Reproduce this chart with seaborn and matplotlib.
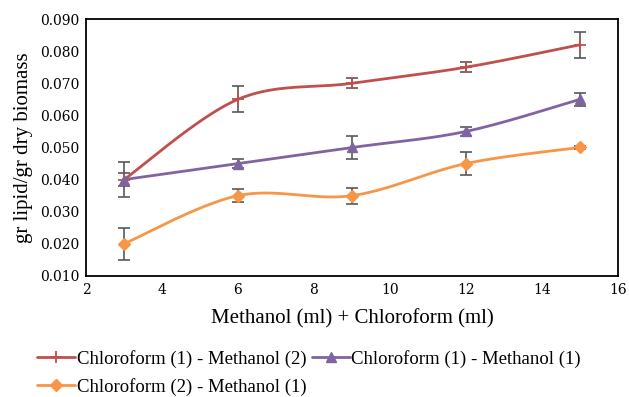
import numpy as np
import matplotlib
matplotlib.use("Agg")
import matplotlib.pyplot as plt
import seaborn as sns
from matplotlib.lines import Line2D

sns.set_theme(style="white")
plt.rcParams['font.family'] = ['Liberation Serif', 'DejaVu Serif']
plt.rcParams['text.color'] = 'black'
plt.rcParams['axes.labelcolor'] = 'black'

x_vals = [3, 6, 9, 12, 15]
red_vals = [0.040, 0.065, 0.070, 0.075, 0.082]
red_err = [0.002, 0.004, 0.0015, 0.0015, 0.004]
purple_vals = [0.040, 0.045, 0.050, 0.055, 0.065]
purple_err = [0.0055, 0.0015, 0.0035, 0.0015, 0.002]
orange_vals = [0.020, 0.035, 0.035, 0.045, 0.050]
orange_err = [0.005, 0.002, 0.0025, 0.0035, 0.0005]
labels = ["Chloroform (1) - Methanol (2)", "Chloroform (1) - Methanol (1)",
          "Chloroform (2) - Methanol (1)"]
colors = ["#C0504D", "#8064A2", "#F79646"]
markers = ["+", "^", "D"]


def smooth(xs, ys, n=40):
    # Catmull-Rom (Excel-style smoothing) through the points
    P = np.column_stack([xs, ys]).astype(float)
    P = np.vstack([P[0], P, P[-1]])
    out = []
    t = np.linspace(0, 1, n)[:, None]
    for i in range(1, len(P) - 2):
        p0, p1, p2, p3 = P[i - 1], P[i], P[i + 1], P[i + 2]
        c1 = p1 + (p2 - p0) / 6
        c2 = p2 - (p3 - p1) / 6
        seg = ((1 - t) ** 3) * p1 + 3 * ((1 - t) ** 2) * t * c1 + 3 * (1 - t) * t ** 2 * c2 + t ** 3 * p2
        out.append(seg)
    out = np.vstack(out)
    return out[:, 0], out[:, 1]


fig = plt.figure(figsize=(6.29, 3.97), dpi=100)
ax = fig.add_axes([0.1367, 0.305, 0.8458, 0.647])

series = [(red_vals, red_err), (purple_vals, purple_err), (orange_vals, orange_err)]
handles = []
for (vals, err), c, m, lab in zip(series, colors, markers, labels):
    sx, sy = smooth(x_vals, vals)
    sns.lineplot(x=sx, y=sy, ax=ax, color=c, lw=2, sort=False, estimator=None)
    ax.errorbar(x_vals, vals, yerr=err, fmt='none', ecolor='#595959', elinewidth=1.2,
                capsize=4, capthick=1.2, zorder=3)
    ms = 9 if m == "+" else (7 if m == "^" else 6)
    ax.plot(x_vals, vals, ls='none', marker=m, ms=ms, mew=1.3 if m == "+" else 1,
            color=c, zorder=4)
    handles.append(Line2D([], [], color=c, lw=2, marker=m, ms=ms,
                          mew=1.3 if m == "+" else 1, label=lab))

ax.set_xlim(2, 16)
ax.set_ylim(0.010, 0.090)
ax.set_xticks(np.arange(2, 17, 2))
ax.set_yticks(np.arange(0.010, 0.0901, 0.010))
ax.yaxis.set_major_formatter(matplotlib.ticker.FormatStrFormatter('%.3f'))
ax.tick_params(axis='both', labelsize=10, length=0, pad=5, colors='black')
for lbl in ax.get_xticklabels() + ax.get_yticklabels():
    lbl.set_family(['DejaVu Serif'])
for s in ax.spines.values():
    s.set_color('black')
    s.set_linewidth(1.3)
ax.set_xlabel("Methanol (ml) + Chloroform (ml)", fontsize=15, color='black', labelpad=9)
ax.set_ylabel("gr lipid/gr dry biomass", fontsize=15, color='black', labelpad=5)

order = [0, 2, 1]
leg = fig.legend(handles=[handles[i] for i in order], loc='upper left', bbox_to_anchor=(0.0475, 0.138),
                 ncol=2, frameon=False, fontsize=13.5, handlelength=2.0, handletextpad=0.1,
                 columnspacing=0.3, labelspacing=0.55, borderaxespad=0)
for t in leg.get_texts():
    t.set_color('black')

fig.savefig("out.png", dpi=100)
